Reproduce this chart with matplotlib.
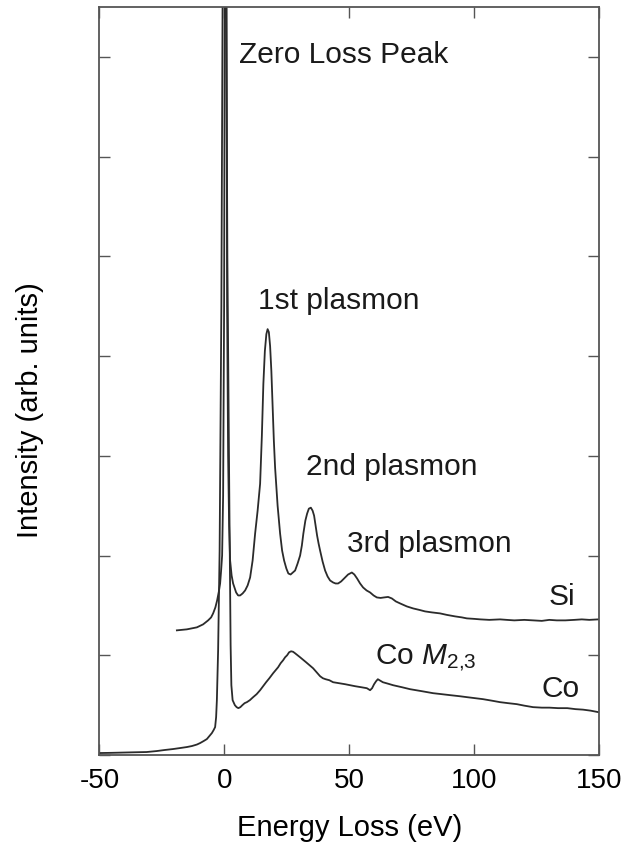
import matplotlib
matplotlib.use('Agg')
import matplotlib.pyplot as plt

plt.rcParams['font.family'] = ['Liberation Sans', 'DejaVu Sans']
plt.rcParams['axes.unicode_minus'] = False
plt.rcParams['mathtext.fontset'] = 'custom'
plt.rcParams['mathtext.rm'] = 'Liberation Sans'
plt.rcParams['mathtext.it'] = 'Liberation Sans:italic'

# Si spectrum (energy loss in eV, intensity in arb. units)
si_energy = [-19.0, -15.0, -11.0, -8.5, -6.5, -5.3, -4.5, -3.6, -2.9, -2.2, -1.7,
             -1.3, -0.9, -0.5, -0.1, 0.5, 1.1, 1.5, 1.9, 2.3, 2.9, 3.5, 4.7, 5.5,
             6.3, 7.3, 8.3, 9.3, 10.3, 11.3, 12.3, 13.3, 14.3, 15.0, 15.6, 16.2,
             16.8, 17.3, 17.8, 18.3, 18.8, 19.3, 19.8, 20.3, 21.3, 22.3, 23.1,
             23.9, 24.8, 25.6, 26.5, 27.4, 28.3, 29.3, 30.3, 31.0, 31.6, 32.4,
             33.1, 33.8, 34.6, 35.3, 35.9, 36.5, 37.1, 37.7, 38.3, 39.3, 40.3,
             41.3, 42.3, 43.5, 44.5, 45.5, 46.7, 47.9, 49.5, 51.0, 52.0, 53.1,
             54.3, 55.5, 56.9, 58.3, 59.7, 61.0, 62.5, 63.9, 65.5, 67.0, 68.6,
             70.3, 73.0, 75.5, 78.0, 80.3, 83.0, 86.3, 89.0, 92.3, 95.0, 97.0,
             100.0, 102.4, 106.0, 110.3, 113.0, 116.0, 120.0, 123.6, 127.0,
             130.0, 133.0, 136.4, 140.0, 143.0, 146.0, 149.6]
si_intensity = [1.25, 1.26, 1.28, 1.31, 1.35, 1.38, 1.42, 1.48, 1.55, 1.64, 1.72,
                1.85, 2.0, 2.6, 4.5, 12.0, 4.5, 3.0, 2.3, 1.95, 1.80, 1.72, 1.63, 1.60,
                1.60, 1.62, 1.65, 1.70, 1.78, 1.95, 2.22, 2.45, 2.72, 3.2, 3.72, 4.05,
                4.22, 4.27, 4.24, 4.10, 3.85, 3.5, 3.15, 2.88, 2.5, 2.22, 2.05,
                1.95, 1.87, 1.82, 1.81, 1.83, 1.85, 1.92, 2.0, 2.1, 2.22, 2.35,
                2.42, 2.47, 2.48, 2.45, 2.40, 2.30, 2.20, 2.12, 2.05, 1.94, 1.85,
                1.79, 1.75, 1.73, 1.72, 1.72, 1.74, 1.77, 1.81, 1.83, 1.81, 1.77,
                1.72, 1.68, 1.65, 1.63, 1.60, 1.58, 1.575, 1.58, 1.585, 1.57, 1.54,
                1.52, 1.49, 1.47, 1.455, 1.44, 1.43, 1.42, 1.405, 1.39, 1.38, 1.37,
                1.365, 1.36, 1.355, 1.36, 1.355, 1.35, 1.355, 1.35, 1.345,
                1.355, 1.35, 1.35, 1.355, 1.36, 1.355, 1.36]

# Co spectrum
co_energy = [-49.8, -45.0, -40.0, -35.0, -31.1, -27.0, -24.0, -20.5, -17.7, -15.0,
             -13.0, -11.0, -9.7, -8.3, -7.0, -6.0, -5.0, -4.3, -3.7, -3.3, -3.0,
             -2.5, -1.9, -1.2, 0.0, 1.2, 2.0, 2.5, 2.8, 3.3, 4.2, 4.9, 5.6, 6.4,
             7.2, 8.1, 9.0, 10.2, 11.5, 12.9, 14.3, 15.5, 16.7, 18.0, 19.5, 20.5,
             21.5, 22.5, 23.5, 24.3, 25.1, 25.9, 26.7, 27.5, 28.3, 29.3, 30.3,
             31.5, 32.7, 34.1, 35.5, 36.9, 38.3, 39.4, 40.5, 42.0, 43.5, 45.9,
             48.3, 50.3, 52.3, 54.7, 57.0, 58.3, 59.1, 59.9, 60.7, 61.4, 62.4,
             63.4, 65.5, 67.5, 71.0, 74.3, 79.0, 83.5, 87.0, 90.4, 94.0, 97.1,
             100.3, 103.5, 107.0, 110.3, 113.5, 117.0, 120.0, 123.5, 127.0,
             130.0, 133.5, 137.2, 140.5, 143.5, 146.5, 149.6]
co_intensity = [0.02, 0.022, 0.025, 0.028, 0.03, 0.04, 0.05, 0.06, 0.07, 0.08,
                0.09, 0.105, 0.12, 0.14, 0.16, 0.19, 0.22, 0.25, 0.28, 0.38, 0.55,
                1.05, 2.05, 4.5, 12.0, 5.0, 2.5, 1.1, 0.7, 0.55, 0.50, 0.48, 0.47, 0.48,
                0.50, 0.52, 0.53, 0.55, 0.58, 0.61, 0.65, 0.69, 0.73, 0.77, 0.82, 0.85,
                0.88, 0.92, 0.95, 0.98, 1.00, 1.03, 1.04, 1.035, 1.02, 1.0, 0.98,
                0.955, 0.93, 0.90, 0.87, 0.83, 0.79, 0.77, 0.76, 0.75, 0.73, 0.72,
                0.71, 0.70, 0.69, 0.68, 0.67, 0.65, 0.67, 0.71, 0.74, 0.76, 0.745,
                0.73, 0.715, 0.70, 0.68, 0.66, 0.64, 0.62, 0.61, 0.60, 0.59, 0.58,
                0.57, 0.56, 0.545, 0.53, 0.52, 0.51, 0.495, 0.48, 0.475,
                0.475, 0.47, 0.47, 0.46, 0.455, 0.445, 0.43]

# annotation text and where it sits (energy, intensity)
labels = ['Zero Loss Peak', '1st plasmon', '2nd plasmon', '3rd plasmon', 'Si',
          'Co $\\mathit{M}_{2{,}3}$', 'Co']
label_x = [5.9, 13.6, 32.7, 49.0, 129.7, 60.3, 127.0]
label_y = [6.94, 4.47, 2.81, 2.04, 1.50, 0.91, 0.58]

fig = plt.figure(figsize=(6.4, 8.42), dpi=100)
ax = fig.add_axes([0.1553, 0.1033, 0.7811, 0.8884])

ax.plot(si_energy, si_intensity, color='#2b2b2b', lw=1.3)
ax.plot(co_energy, co_intensity, color='#2b2b2b', lw=1.3)

for txt, x, y in zip(labels, label_x, label_y):
    ax.text(x, y, txt, fontsize=21.5, color='#1a1a1a', va='baseline', ha='left')

ax.set_xlim(-50, 150)
ax.set_ylim(0, 7.5)
ax.set_xticks([-50, 0, 50, 100, 150])
ax.set_yticks(range(0, 8))
ax.set_yticklabels([])
ax.tick_params(direction='in', length=8, width=1, color='#555555',
               top=True, right=True, labelsize=20, pad=9)
for sp in ax.spines.values():
    sp.set_color('#555555')
    sp.set_linewidth(1.3)

ax.set_xlabel('Energy Loss (eV)', fontsize=21, labelpad=15)
ax.set_ylabel('Intensity (arb. units)', fontsize=21)
ax.yaxis.set_label_coords(-0.110, 0.461)

fig.savefig('out.png', dpi=100)
